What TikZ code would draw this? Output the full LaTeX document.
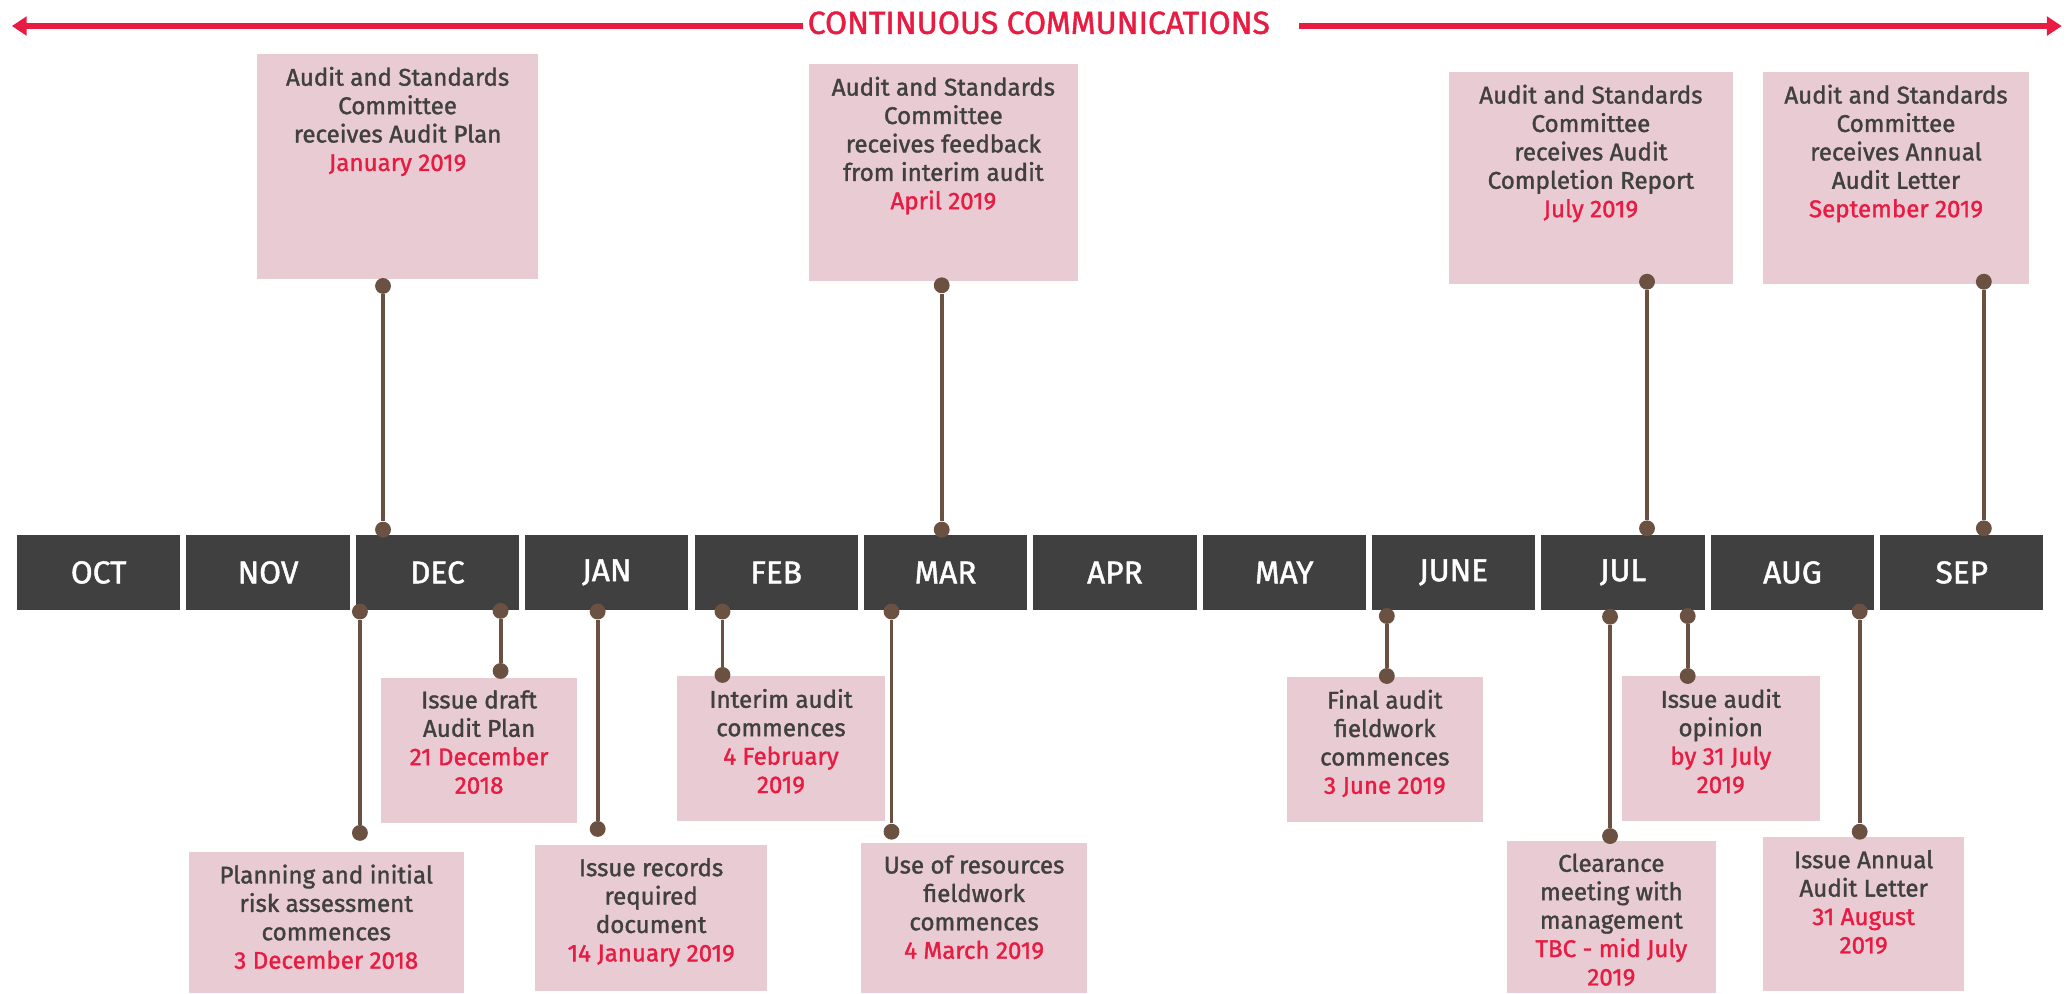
\documentclass[tikz,border=0pt]{standalone}
\usepackage{fontspec}
\setmainfont{Fira Sans}
\newfontfamily\evfamily[FakeBold=1.4]{Fira Sans}
\usepackage{tikz}
\usetikzlibrary{arrows.meta,fit}

\definecolor{boxpink}{HTML}{E8CBD3}
\definecolor{bargray}{HTML}{404040}
\definecolor{linkbrown}{HTML}{6A5142}
\definecolor{datered}{HTML}{E81C42}
\definecolor{textgray}{HTML}{404040}
\newcommand{\evfont}{\evfamily\fontsize{13}{15.3}\selectfont}
\newcommand{\when}[1]{\textcolor{datered}{#1}}

\begin{document}
\begin{tikzpicture}[x=0.025cm,y=-0.025cm]
      \tikzstyle{month} = [fill=bargray, text=white, minimum width=3.09cm, minimum height=1.425cm, inner sep=0pt, font=\evfamily\fontsize{17}{20}\selectfont]
      \tikzstyle{evbox} = [fill=boxpink, inner sep=0pt]
      \tikzstyle{evtext} = [text=textgray, align=center, inner sep=0pt, anchor=north, yshift=-0.24cm, font=\evfont]
      \tikzstyle{dot} = [circle, fill=linkbrown, minimum size=0.3cm, inner sep=0pt]
      \tikzstyle{link} = [linkbrown, line width=2.1pt]
      \tikzstyle{comm} = [datered, line width=3.2pt, -{Triangle[length=8pt,width=10pt]}]
      \useasboundingbox (0,0) rectangle (1568,752);

      % month bar
      \foreach \m [count=\i from 0] in {OCT,NOV,DEC,JAN,FEB,MAR,APR,MAY,JUNE,JUL,AUG,SEP}
        \node[month] (m\i) at (74.7+128.24*\i,433.4) {\raisebox{-0.09cm}{\m}};

      % continuous communications
      \node[text=datered, inner sep=0pt, font=\evfamily\fontsize{17.2}{20}\selectfont] (hdr) at (786.5,17.3) {CONTINUOUS COMMUNICATIONS};
      \coordinate (lt) at (9,19.7);
      \coordinate (rt) at (1561,19.7);
      \draw[comm] ([xshift=-0.09cm]hdr.west |- lt) -- (lt);
      \draw[comm] ([xshift=0.55cm]hdr.east |- rt) -- (rt);

      % committee boxes above the bar
      \node[evbox, fit={(194.6,41) (407.5,211)}] (plan) {};
      \node[evtext] (plantxt) at (plan.north) {Audit and Standards\\Committee\\receives Audit Plan\\\when{January 2019}};
      \node[evbox, fit={(612.5,48.5) (816,212.6)}] (feedback) {};
      \node[evtext] (feedbacktxt) at (feedback.north) {Audit and Standards\\Committee\\receives feedback\\from interim audit\\\when{April 2019}};
      \node[evbox, fit={(1097,54.5) (1312,215)}] (completion) {};
      \node[evtext] (completiontxt) at (completion.north) {Audit and Standards\\Committee\\receives Audit\\Completion Report\\\when{July 2019}};
      \node[evbox, fit={(1335,54.5) (1536,215)}] (letter) {};
      \node[evtext] (lettertxt) at (letter.north) {Audit and Standards\\Committee\\receives Annual\\Audit Letter\\\when{September 2019}};

      % work boxes below the bar
      \node[evbox, fit={(143,645) (351,752)}] (planning) {};
      \node[evtext] (planningtxt) at (planning.north) {Planning and initial\\risk assessment\\commences\\\when{3 December 2018}};
      \node[evbox, fit={(288.5,513) (437,623)}] (draft) {};
      \node[evtext] (drafttxt) at (draft.north) {Issue draft\\Audit Plan\\\when{21 December}\\\when{2018}};
      \node[evbox, fit={(405,640) (581,750)}] (records) {};
      \node[evtext] (recordstxt) at (records.north) {Issue records\\required\\document\\\when{14 January 2019}};
      \node[evbox, fit={(512.6,512) (670,621.6)}] (interim) {};
      \node[evtext] (interimtxt) at (interim.north) {Interim audit\\commences\\\when{4 February}\\\when{2019}};
      \node[evbox, fit={(652,638) (823,752)}] (resources) {};
      \node[evtext] (resourcestxt) at (resources.north) {Use of resources\\fieldwork\\commences\\\when{4 March 2019}};
      \node[evbox, fit={(974.4,512.6) (1122.5,622)}] (final) {};
      \node[evtext] (finaltxt) at (final.north) {Final audit\\fieldwork\\commences\\\when{3 June 2019}};
      \node[evbox, fit={(1141,636.7) (1299,752)}] (clearance) {};
      \node[evtext] (clearancetxt) at (clearance.north) {Clearance\\meeting with\\management\\\when{TBC - mid July}\\\when{2019}};
      \node[evbox, fit={(1228,512) (1377.6,621.4)}] (opinion) {};
      \node[evtext] (opiniontxt) at (opinion.north) {Issue audit\\opinion\\\when{by 31 July}\\\when{2019}};
      \node[evbox, fit={(1335,634) (1487,750)}] (annual) {};
      \node[evtext] (annualtxt) at (annual.north) {Issue Annual\\Audit Letter\\\when{31 August}\\\when{2019}};

      % dots
      \node[dot] (plantop) at (290,216.5) {};
      \node[dot] (planbar) at (290,401) {};
      \node[dot] (feedbacktop) at (713,216) {};
      \node[dot] (feedbackbar) at (713,401) {};
      \node[dot] (completiontop) at (1247,213.3) {};
      \node[dot] (completionbar) at (1247,400) {};
      \node[dot] (lettertop) at (1502,213.3) {};
      \node[dot] (letterbar) at (1502,400) {};
      \node[dot] (planningbar) at (272.5,463) {};
      \node[dot] (planningtop) at (272.5,630.6) {};
      \node[dot] (draftbar) at (379,462.5) {};
      \node[dot] (drafttop) at (379,508) {};
      \node[dot] (recordsbar) at (452.5,463) {};
      \node[dot] (recordstop) at (452.5,627.6) {};
      \node[dot] (interimbar) at (547,463) {};
      \node[dot] (interimtop) at (547,511) {};
      \node[dot] (resourcesbar) at (675,463) {};
      \node[dot] (resourcestop) at (675,629.7) {};
      \node[dot] (finalbar) at (1050,466.4) {};
      \node[dot] (finaltop) at (1050,511.8) {};
      \node[dot] (clearancebar) at (1219,466.9) {};
      \node[dot] (clearancetop) at (1219,633) {};
      \node[dot] (opinionbar) at (1277.8,466.4) {};
      \node[dot] (opiniontop) at (1277.8,511.8) {};
      \node[dot] (annualbar) at (1408,463) {};
      \node[dot] (annualtop) at (1408,629.7) {};

      \path
      (plantop) edge[link] (planbar)
      (feedbacktop) edge[link] (feedbackbar)
      (completiontop) edge[link] (completionbar)
      (lettertop) edge[link] (letterbar)
      (planningbar) edge[link] (planningtop)
      (draftbar) edge[link] (drafttop)
      (recordsbar) edge[link] (recordstop)
      (interimbar) edge[link] (interimtop)
      (resourcesbar) edge[link] (resourcestop)
      (finalbar) edge[link] (finaltop)
      (clearancebar) edge[link] (clearancetop)
      (opinionbar) edge[link] (opiniontop)
      (annualbar) edge[link] (annualtop)
      ;
\end{tikzpicture}
\end{document}
